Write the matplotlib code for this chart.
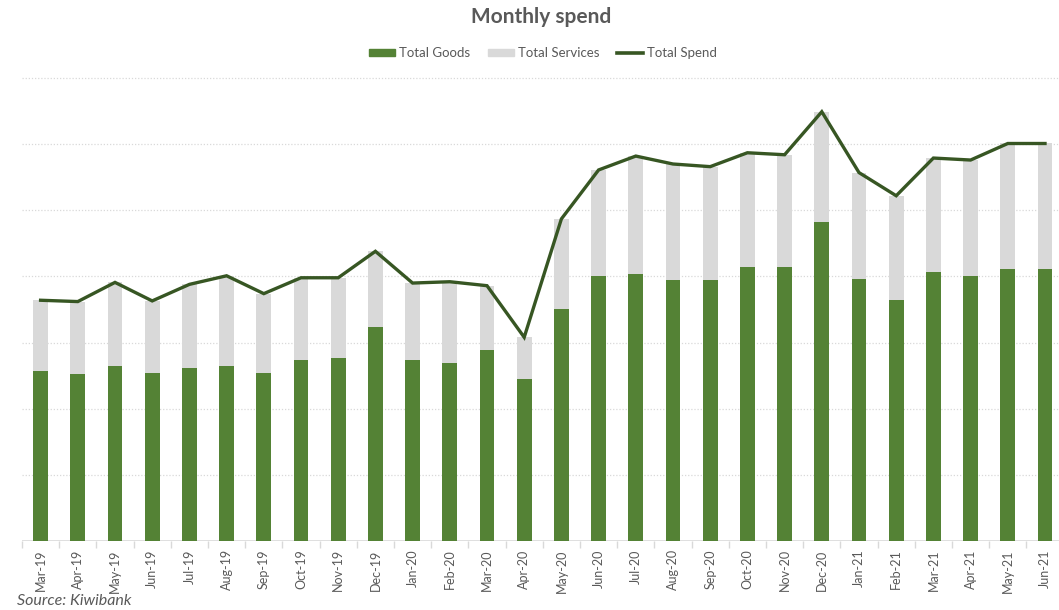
import matplotlib.pyplot as plt
from matplotlib.patches import Patch
from matplotlib.lines import Line2D
import numpy as np

months = ["Mar-19", "Apr-19", "May-19", "Jun-19", "Jul-19", "Aug-19", "Sep-19",
          "Oct-19", "Nov-19", "Dec-19", "Jan-20", "Feb-20", "Mar-20", "Apr-20",
          "May-20", "Jun-20", "Jul-20", "Aug-20", "Sep-20", "Oct-20", "Nov-20",
          "Dec-20", "Jan-21", "Feb-21", "Mar-21", "Apr-21", "May-21", "Jun-21"]
goods = [2.57, 2.53, 2.65, 2.54, 2.62, 2.64, 2.54, 2.74, 2.77, 3.24, 2.74, 2.69,
         2.89, 2.45, 3.51, 4.00, 4.04, 3.94, 3.95, 4.15, 4.15, 4.82, 3.96, 3.64,
         4.07, 4.01, 4.11, 4.11]
services = [1.07, 1.09, 1.26, 1.09, 1.26, 1.37, 1.20, 1.24, 1.21, 1.14, 1.16, 1.23,
            0.97, 0.63, 1.36, 1.61, 1.78, 1.76, 1.71, 1.72, 1.69, 1.67, 1.61, 1.58,
            1.72, 1.75, 1.90, 1.90]
total = [g + s for g, s in zip(goods, services)]

GREEN = "#548235"
GREY = "#d9d9d9"
LINE = "#375623"
TXT = "#595959"

plt.rcParams['font.family'] = ['Lato', 'DejaVu Sans']

fig = plt.figure(figsize=(10.59, 6.10), dpi=100)
W, H = 1059, 610
ymax = 7.05
px_unit = 66.14
ax = fig.add_axes([22 / W, 69 / H, (1063.6 - 22) / W, ymax * px_unit / H])

x = np.arange(len(months))
ax.bar(x, goods, width=0.4, color=GREEN, zorder=2)
ax.bar(x, services, width=0.4, bottom=goods, color=GREY, zorder=2)
ax.plot(x, total, color=LINE, lw=2.4, zorder=3, solid_joinstyle='miter')

ax.set_xlim(-0.5, len(months) - 0.5)
ax.set_ylim(0, ymax)
for s in ax.spines.values():
    s.set_visible(False)
ax.axhline(0, color=GREY, lw=1.2, zorder=1)
for gy in range(1, 8):
    ax.axhline(gy, color=GREY, lw=0.9, ls=(0, (1, 1.5)), zorder=0)

ax.set_yticks([])
ax.set_xticks(x)
ax.set_xticklabels(months, rotation=90, fontsize=9, color=TXT)
ax.tick_params(axis='x', which='major', length=0, pad=6)
ax.set_xticks(np.arange(-0.5, len(months), 1), minor=True)
ax.tick_params(axis='x', which='minor', length=5, color=GREY, width=1)

fig.text(541 / W, 1 - 17 / H, "Monthly spend", ha='center', va='center',
         fontsize=15, fontweight='bold', color=TXT)

handles = [Patch(color=GREEN, label="Total Goods"),
           Patch(color=GREY, label="Total Services"),
           Line2D([], [], color=LINE, lw=2.6, label="Total Spend")]
fig.legend(handles=handles, loc='center', bbox_to_anchor=(543 / W, 1 - 53 / H),
           ncol=3, frameon=False, fontsize=9.5, labelcolor=TXT,
           handlelength=2.0, handleheight=0.5, handletextpad=0.3, columnspacing=1.3)

fig.text(17 / W, 1 - 601 / H, "Source: Kiwibank", ha='left', va='center',
         fontsize=11.5, style='italic', color=TXT)

fig.savefig("out.png", dpi=100)
